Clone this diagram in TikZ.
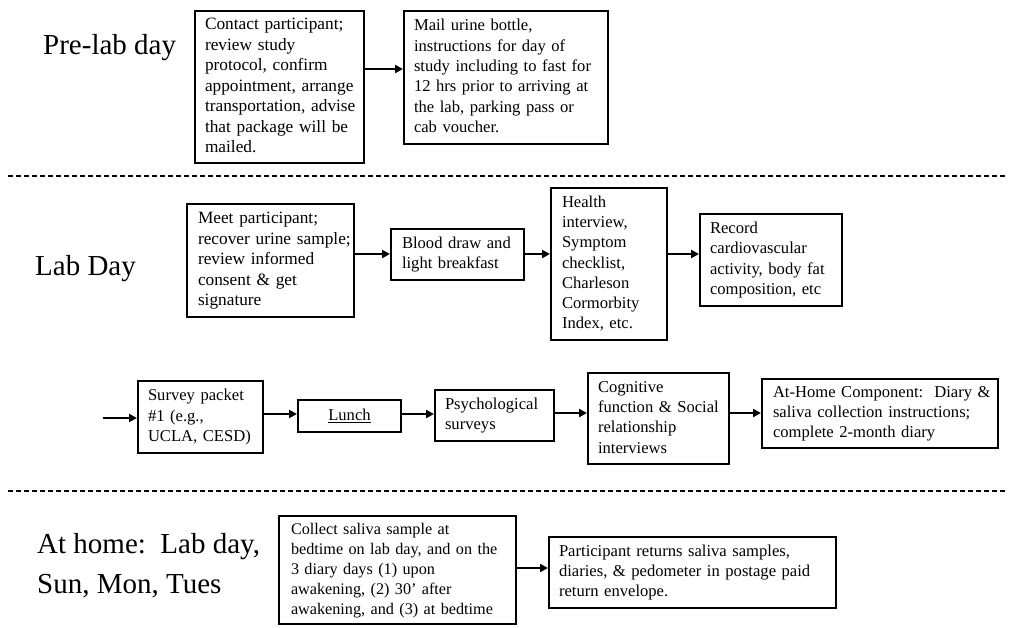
\documentclass[tikz,border=0pt]{standalone}
\usepackage{fontspec}
\setmainfont{Liberation Serif}
\usetikzlibrary{arrows.meta}
\newcommand\boxlines[1]{\begin{tabular}{@{}l@{}}#1\end{tabular}}
\newcommand\labellines[1]{\begin{tabular}[t]{@{}l@{}}#1\end{tabular}}
\begin{document}
\begin{tikzpicture}[x=1pt,y=-1pt,
  bx/.style={draw, line width=2pt, rectangle, anchor=north west, align=left, inner ysep=0pt},
  arr/.style={line width=2pt, -{Triangle[length=8pt,width=8pt]}},
  sepline/.style={line width=2pt, dash pattern=on 5pt off 3pt},
  lbl/.style={font=\fontsize{29}{40}\selectfont, anchor=base west, inner sep=0pt},
  fbig/.style={font=\fontsize{17.3}{20.5}\selectfont},
  fmid/.style={font=\fontsize{16.6}{20.3}\selectfont},
  fsml/.style={font=\fontsize{16.2}{20}\selectfont},
]
\useasboundingbox (0,0) rectangle (1009,627);

% section labels
\node[lbl] (L1) at (43,54) {Pre-lab day};
\node[lbl] (L2) at (35,275) {Lab Day};
\node[lbl] (L3) at (37,553) {\labellines{At home:\ \ Lab day,\\ Sun, Mon, Tues}};

% separators
\draw[sepline] (8,176) -- (1005,176);
\draw[sepline] (8,491) -- (1005,491);

% Pre-lab day
\node[bx, fbig, minimum width=169pt, minimum height=152pt, text width=149pt, inner xsep=10pt] (b1) at (194,10)
  {\boxlines{Contact participant;\\ review study\\ protocol, confirm\\ appointment, arrange\\ transportation, advise\\ that package will be\\ mailed.}};
\node[bx, fmid, minimum width=204pt, minimum height=133pt, text width=184pt, inner xsep=10pt] (b2) at (403,10)
  {\boxlines{Mail urine bottle,\\ instructions for day of\\ study including to fast for\\ 12 hrs prior to arriving at\\ the lab, parking pass or\\ cab voucher.}};

% Lab day, first row
\node[bx, fbig, minimum width=167pt, minimum height=113pt, text width=145pt, inner xsep=11pt] (m1) at (186,203)
  {\boxlines{Meet participant;\\ recover urine sample;\\ review informed\\ consent \& get\\ signature}};
\node[bx, fmid, minimum width=133pt, minimum height=51pt, text width=111pt, inner xsep=11pt] (m2) at (390,228)
  {\boxlines{Blood draw and\\ light breakfast}};
\node[bx, fmid, minimum width=116pt, minimum height=152pt, text width=94pt, inner xsep=11pt] (m3) at (550,187)
  {\boxlines{Health\\ interview,\\ Symptom\\ checklist,\\ Charleson\\ Cormorbity\\ Index, etc.}};
\node[bx, fmid, minimum width=142pt, minimum height=92pt, text width=122pt, inner xsep=10pt] (m4) at (699,213)
  {\boxlines{Record\\ cardiovascular\\ activity, body fat\\ composition, etc}};

% Lab day, second row
\node[bx, fmid, minimum width=125pt, minimum height=72pt, text width=105pt, inner xsep=10pt] (s1) at (137,380)
  {\boxlines{Survey packet\\ \#1 (e.g.,\\ UCLA, CESD)}};
\node[bx, fmid, minimum width=103pt, minimum height=32pt, align=center] (s2) at (297,399)
  {\underline{Lunch}};
\node[bx, fmid, minimum width=119pt, minimum height=51pt, text width=99pt, inner xsep=10pt] (s3) at (434,389)
  {\boxlines{Psychological\\ surveys}};
\node[bx, fmid, minimum width=141pt, minimum height=91pt, text width=121pt, inner xsep=10pt] (s4) at (587,372)
  {\boxlines{Cognitive\\ function \& Social\\ relationship\\ interviews}};
\node[bx, fmid, minimum width=236pt, minimum height=69pt, text width=214pt, inner xsep=11pt] (s5) at (761,378)
  {\boxlines{At-Home Component:\ \ Diary \&\\ saliva collection instructions;\\ complete 2-month diary}};

% At home
\node[bx, fsml, minimum width=237pt, minimum height=108pt, text width=213pt, inner xsep=12pt] (h1) at (278,515)
  {\boxlines{Collect saliva sample at\\ bedtime on lab day, and on the\\ 3 diary days (1) upon\\ awakening, (2) 30’ after\\ awakening, and (3) at bedtime}};
\node[bx, fmid, minimum width=287pt, minimum height=71pt, text width=267pt, inner xsep=10pt] (h2) at (548,536)
  {\boxlines{Participant returns saliva samples,\\ diaries, \& pedometer in postage paid\\ return envelope.}};

% arrow levels
\coordinate (ya) at (0,69);
\coordinate (yb) at (0,254);
\coordinate (in) at (103,418);
\coordinate (yc) at (0,414);
\coordinate (yd) at (0,413);
\coordinate (ye) at (0,568);

% connectors
\draw[arr] (b1.east |- ya) -- (b2.west |- ya);
\draw[arr] (m1.east |- yb) -- (m2.west |- yb);
\draw[arr] (m2.east |- yb) -- (m3.west |- yb);
\draw[arr] (m3.east |- yb) -- (m4.west |- yb);
\draw[arr] (in) -- (s1.west |- in);
\draw[arr] (s1.east |- yc) -- (s2.west |- yc);
\draw[arr] (s2.east |- yc) -- (s3.west |- yc);
\draw[arr] (s3.east |- yd) -- (s4.west |- yd);
\draw[arr] (s4.east |- yd) -- (s5.west |- yd);
\draw[arr] (h1.east |- ye) -- (h2.west |- ye);
\end{tikzpicture}
\end{document}
